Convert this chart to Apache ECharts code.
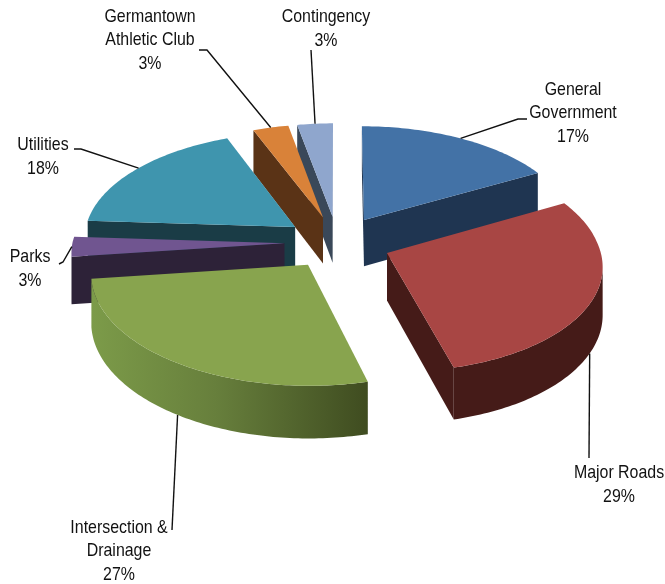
<!DOCTYPE html>
<html>
<head>
<meta charset="utf-8">
<style>html,body{margin:0;padding:0;background:#fff}#chart{width:665px;height:584px}</style>
<script src="https://cdn.jsdelivr.net/npm/echarts@6/dist/echarts.min.js"></script>
</head>
<body>
<div id="chart"></div>
<script>
// Budget shares, clockwise from twelve o'clock.
const categories = ['General\nGovernment', 'Major Roads', 'Intersection &\nDrainage', 'Parks', 'Utilities', 'Germantown\nAthletic Club', 'Contingency'];
const shares = [17, 29, 27, 3, 18, 3, 3];

// Slice colours: top face, then the darker side walls.
const topColors = ['#4372a6', '#a84644', '#88a44e', '#705590', '#3f95ae', '#d98239', '#8fa6cd'];
const sideColors = ['#1f3551', '#451b18', null, '#2d2238', '#1a3c46', '#5a3316', '#3a4859'];

// Painter's order, back slices first.
const paintRank = [2, 5, 6, 4, 3, 1, 0];

// Projection of the tilted pie plane; skew leans the near half to the right.
const view = { cx: 337.5, cy: 242.5, A: 212, B: 106, k: 0.089, skew: 4, depth: 47, explode: 0.25 };

// Label centres, the elbow of each leader line, and where it leaves the rim.
const labelLayout = [
  { x: 573, y: 113, onBase: false, rimShift: 0, path: [[518, 119], [527, 119]] },
  { x: 619, y: 485, onBase: true, rimShift: 3.5, path: [[589, 458]] },
  { x: 119, y: 551, onBase: true, rimShift: 0, path: [[172, 530]] },
  { x: 30, y: 269, onBase: false, rimShift: 0, path: [[63, 262], [59, 264]] },
  { x: 43, y: 157, onBase: false, rimShift: 1, path: [[81, 149], [74, 149]] },
  { x: 150, y: 40, onBase: false, rimShift: 0, path: [[207, 50], [199, 50]] },
  { x: 326, y: 29, onBase: false, rimShift: 0, path: [[311, 50]] }
];

const total = shares.reduce((a, b) => a + b, 0);
const toRad = Math.PI / 180;

function sliceAngles(i) {
  let before = 0;
  for (let j = 0; j < i; j++) before += shares[j];
  const start = before / total * 360;
  return { start, end: start + shares[i] / total * 360 };
}

// Projects a point of the pie plane (unit radius, v towards the back).
function project(u, v, lower) {
  const w = 1 + view.k * v;
  return [
    view.cx + view.A * u / w + view.skew * Math.max(0, -v),
    view.cy - view.B * v / w + (lower ? view.depth / w : 0)
  ];
}

function rim(deg, ox, oy, lower) {
  return project(ox + Math.sin(deg * toRad), oy + Math.cos(deg * toRad), lower);
}

function area(pts) {
  let s = 0;
  pts.forEach((p, n) => {
    const q = pts[(n + 1) % pts.length];
    s += p[0] * q[1] - q[0] * p[1];
  });
  return s;
}

const greenWall = () => new echarts.graphic.LinearGradient(0, 0, 1, 0, [
  { offset: 0, color: '#7c9b49' },
  { offset: 0.45, color: '#677f3c' },
  { offset: 1, color: '#3f4c20' }
]);

function renderSlice(params, api) {
  const i = params.dataIndex;
  const { start, end } = sliceAngles(i);
  const mid = (start + end) / 2;
  const ox = view.explode * Math.sin(mid * toRad);
  const oy = view.explode * Math.cos(mid * toRad);
  const base = paintRank[i] * 10;
  const wallFill = sideColors[i] || greenWall();
  const children = [];
  const addPoly = (points, fill, bump) => children.push({
    type: 'polygon', z2: base + bump, shape: { points },
    style: { fill, stroke: null }
  });

  // Radial walls, kept only when they face the viewer.
  const apexTop = project(ox, oy, false);
  const apexLow = project(ox, oy, true);
  const startWall = [apexTop, rim(start, ox, oy, false), rim(start, ox, oy, true), apexLow];
  const endWall = [rim(end, ox, oy, false), apexTop, apexLow, rim(end, ox, oy, true)];
  if (area(startWall) < 0) addPoly(startWall, wallFill, 1);
  if (area(endWall) < 0) addPoly(endWall, wallFill, 1);

  // Outer wall, gathered into runs of viewer-facing segments.
  const steps = Math.max(8, Math.round(end - start));
  let upper = [];
  let lower = [];
  const flush = () => {
    if (upper.length > 1) addPoly(upper.concat(lower.slice().reverse()), wallFill, 2);
    upper = [];
    lower = [];
  };
  for (let s = 0; s < steps; s++) {
    const a = start + (end - start) * s / steps;
    const b = start + (end - start) * (s + 1) / steps;
    const quad = [rim(a, ox, oy, false), rim(b, ox, oy, false), rim(b, ox, oy, true), rim(a, ox, oy, true)];
    if (area(quad) < 0) {
      if (!upper.length) { upper.push(quad[0]); lower.push(quad[3]); }
      upper.push(quad[1]);
      lower.push(quad[2]);
    } else {
      flush();
    }
  }
  flush();

  // Top face.
  const face = [apexTop];
  for (let s = 0; s <= steps; s++) {
    face.push(rim(start + (end - start) * s / steps, ox, oy, false));
  }
  addPoly(face, topColors[i], 3);

  // Leader line from the slice rim out to the label.
  const layout = labelLayout[i];
  children.push({
    type: 'polyline', z2: 200,
    shape: { points: [rim(mid + layout.rimShift, ox, oy, layout.onBase)].concat(layout.path) },
    style: { fill: null, stroke: '#111', lineWidth: 1.4 }
  });

  // Label text, built from the category name and its value.
  children.push({
    type: 'text', z2: 210, x: layout.x, y: layout.y, scaleX: 0.86,
    style: {
      text: categories[i] + '\n' + api.value(0) + '%',
      fill: '#111',
      font: '18.5px "Liberation Sans", Arial, sans-serif',
      align: 'center', verticalAlign: 'middle', lineHeight: 23.5
    }
  });

  return { type: 'group', children };
}

const chart = echarts.init(document.getElementById('chart'), null, { renderer: 'canvas' });
chart.setOption({
  animation: false,
  backgroundColor: '#fff',
  series: [{
    type: 'custom',
    coordinateSystem: 'none',
    renderItem: renderSlice,
    data: shares.map(v => [v]),
    encode: { value: 0 },
    silent: true
  }]
});
</script>
</body>
</html>
